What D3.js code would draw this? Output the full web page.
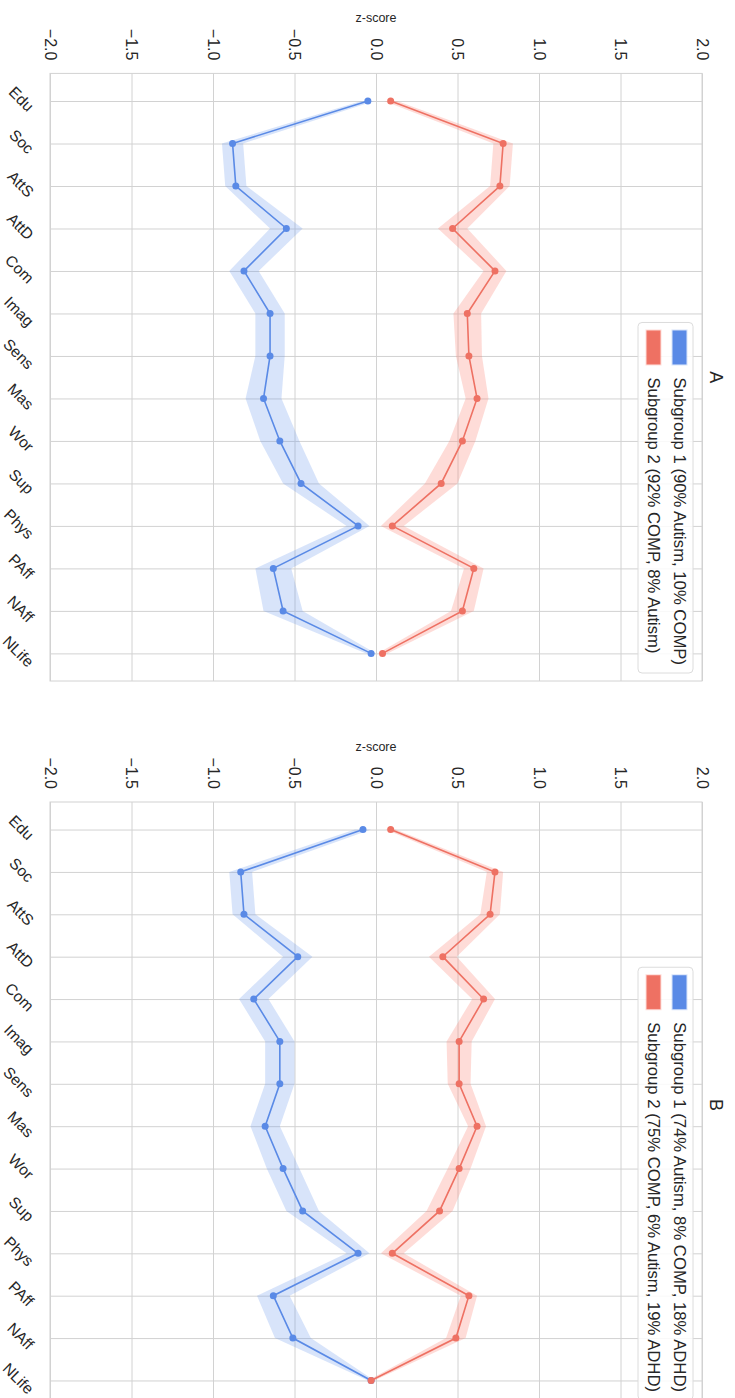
<!DOCTYPE html>
<html>
<head>
<meta charset="utf-8">
<script src="https://cdn.jsdelivr.net/npm/d3@7"></script>
<style>
  body { margin: 0; background: #fff; }
  svg { display: block; }
  text { font-family: Arial, "Liberation Sans", sans-serif; fill: #262626; }
</style>
</head>
<body>
<svg id="chart" width="735" height="1398"></svg>
<script>
// Questionnaire subscales (one row per subscale)
const categories = ["Edu", "Soc", "AttS", "AttD", "Com", "Imag", "Sens", "Mas", "Wor", "Sup", "Phys", "PAff", "NAff", "NLife"];
const zTicks = [-2.0, -1.5, -1.0, -0.5, 0.0, 0.5, 1.0, 1.5, 2.0];

// Panel A: mean z-scores and 95% CI half-widths
const meanA1 = [-0.05, -0.88, -0.86, -0.55, -0.81, -0.65, -0.65, -0.69, -0.59, -0.46, -0.11, -0.63, -0.57, -0.03];
const ciA1   = [0.04, 0.065, 0.065, 0.10, 0.09, 0.09, 0.09, 0.11, 0.12, 0.11, 0.07, 0.11, 0.12, 0.03];
const meanA2 = [0.09, 0.78, 0.76, 0.47, 0.73, 0.56, 0.57, 0.62, 0.53, 0.40, 0.10, 0.60, 0.53, 0.04];
const ciA2   = [0.04, 0.06, 0.06, 0.09, 0.07, 0.085, 0.08, 0.07, 0.08, 0.10, 0.07, 0.06, 0.07, 0.03];

// Panel B: mean z-scores and 95% CI half-widths
const meanB1 = [-0.08, -0.83, -0.81, -0.48, -0.75, -0.59, -0.59, -0.68, -0.57, -0.45, -0.11, -0.63, -0.51, -0.03];
const ciB1   = [0.05, 0.07, 0.07, 0.09, 0.09, 0.09, 0.09, 0.09, 0.10, 0.10, 0.07, 0.10, 0.11, 0.02];
const meanB2 = [0.09, 0.73, 0.70, 0.41, 0.66, 0.51, 0.51, 0.62, 0.51, 0.39, 0.10, 0.57, 0.49, -0.03];
const ciB2   = [0.03, 0.05, 0.06, 0.085, 0.07, 0.077, 0.07, 0.055, 0.07, 0.08, 0.07, 0.05, 0.06, 0.02];

const labelsA = ["Subgroup 1 (90% Autism, 10% COMP)", "Subgroup 2 (92% COMP, 8% Autism)"];
const labelsB = ["Subgroup 1 (74% Autism, 8% COMP, 18% ADHD)", "Subgroup 2 (75% COMP, 6% Autism, 19% ADHD)"];
const titles = ["A", "B"];

const BLUE = "#5a8ae6", BLUE_FILL = "rgba(100,149,237,0.25)";
const RED = "#ee7163", RED_FILL = "rgba(250,128,114,0.28)";
const GRID = "#d2d2d2";
const INK = "#262626";

const panels = [
  { title: titles[0], top: 73.4, bottom: 681, legend: labelsA,
    series: [{ mean: meanA1, ci: ciA1, color: BLUE, fill: BLUE_FILL },
             { mean: meanA2, ci: ciA2, color: RED, fill: RED_FILL }] },
  { title: titles[1], top: 802, bottom: 1408, legend: labelsB,
    series: [{ mean: meanB1, ci: ciB1, color: BLUE, fill: BLUE_FILL },
             { mean: meanB2, ci: ciB2, color: RED, fill: RED_FILL }] }
];

const svg = d3.select("#chart");
svg.append("rect").attr("width", 735).attr("height", 1398).attr("fill", "#fff");

const left = 50, right = 702;
const x = d3.scaleLinear().domain([-2, 2]).range([left, right]);

panels.forEach(p => {
  const margin = (p.bottom - p.top) * 0.05 / 1.1;
  const y = d3.scalePoint().domain(categories).range([p.top + margin, p.bottom - margin]);
  const g = svg.append("g");

  // vertical grid lines + rotated z-score tick labels
  const xAxis = g.append("g")
    .attr("transform", `translate(0,${p.top})`)
    .call(d3.axisTop(x).tickValues(zTicks).tickFormat(d3.format(".1f"))
      .tickSize(-(p.bottom - p.top)).tickPadding(0));
  xAxis.select(".domain").remove();
  xAxis.selectAll("line").attr("stroke", GRID).attr("stroke-width", 1);
  xAxis.selectAll("text")
    .attr("x", 0).attr("y", 0).attr("dy", "0.35em")
    .attr("text-anchor", "end")
    .attr("fill", INK)
    .attr("transform", "translate(0,-13) rotate(90)")
    .style("font-size", "16px").style("fill", INK)
    .text(d => d3.format(".1f")(d).replace("-", "\u2212"));

  // horizontal grid lines + tilted category labels
  const yAxis = g.append("g")
    .attr("transform", `translate(${left},0)`)
    .call(d3.axisLeft(y).tickSize(-(right - left)).tickPadding(0));
  yAxis.select(".domain").remove();
  yAxis.selectAll("line").attr("stroke", GRID).attr("stroke-width", 1);
  yAxis.selectAll("text")
    .attr("text-anchor", "middle").attr("dy", "0.35em")
    .attr("fill", INK)
    .style("font-size", "15.5px").style("fill", INK)
    .each(function () {
      const t = d3.select(this);
      const L = this.getComputedTextLength();
      const ext = (L + 11) * Math.SQRT1_2;
      const cx = -15 - ext / 2;
      t.attr("x", 0).attr("y", 0)
       .attr("transform", `translate(${cx},-2.5) rotate(45)`);
    });

  // axes frame
  g.append("rect")
    .attr("x", left).attr("y", p.top)
    .attr("width", right - left).attr("height", p.bottom - p.top)
    .attr("fill", "none").attr("stroke", GRID).attr("stroke-width", 1);

  // axis label
  g.append("text")
    .attr("x", (left + right) / 2).attr("y", p.top - 51)
    .attr("text-anchor", "middle")
    .style("font-size", "12.5px")
    .text("z-score");

  // panel title
  g.append("text")
    .attr("transform", `translate(716,${(p.top + p.bottom) / 2}) rotate(90)`)
    .attr("text-anchor", "middle").attr("dy", "0.35em")
    .style("font-size", "18px")
    .text(p.title);

  // confidence bands
  p.series.forEach(s => {
    const rows = categories.map((c, i) => ({ c, m: s.mean[i], lo: s.mean[i] - s.ci[i], hi: s.mean[i] + s.ci[i] }));
    const area = d3.area().y(d => y(d.c)).x0(d => x(d.lo)).x1(d => x(d.hi));
    g.append("path").datum(rows).attr("d", area).attr("fill", s.fill).attr("stroke", "none");
  });

  // mean lines with point markers
  p.series.forEach(s => {
    const rows = categories.map((c, i) => ({ c, m: s.mean[i] }));
    const line = d3.line().y(d => y(d.c)).x(d => x(d.m));
    g.append("path").datum(rows).attr("d", line)
      .attr("fill", "none").attr("stroke", s.color).attr("stroke-width", 1.6);
    g.selectAll(null).data(rows).enter().append("circle")
      .attr("cx", d => x(d.m)).attr("cy", d => y(d.c)).attr("r", 3.5)
      .attr("fill", s.color);
  });

  // legend (upper-right of the unrotated axes)
  const leg = g.append("g");
  const fs = 16.7;
  const texts = p.legend.map((lab, i) => {
    const cx = i === 0 ? 680 : 654;
    return leg.append("text")
      .attr("text-anchor", "start").attr("dy", "0.35em")
      .style("font-size", fs + "px")
      .text(lab)
      .attr("data-cx", cx);
  });
  const maxLen = d3.max(texts, t => t.node().getComputedTextLength());
  const boxEnd = p.bottom - 8;
  const textStart = boxEnd - 8 - maxLen;
  const boxTop = textStart - 55;
  leg.insert("rect", "text")
    .attr("x", 638).attr("y", boxTop)
    .attr("width", 55).attr("height", boxEnd - boxTop)
    .attr("rx", 4).attr("fill", "rgba(255,255,255,0.85)")
    .attr("stroke", "#dcdcdc").attr("stroke-width", 1);
  texts.forEach((t, i) => {
    const cx = +t.attr("data-cx");
    t.attr("transform", `translate(${cx},${textStart}) rotate(90)`);
    const s = p.series[i];
    leg.append("rect")
      .attr("x", cx - 7.5).attr("y", boxTop + 8)
      .attr("width", 14).attr("height", 34)
      .attr("fill", s.color).attr("stroke", s.fill).attr("stroke-width", 2);
  });
});
</script>
</body>
</html>
